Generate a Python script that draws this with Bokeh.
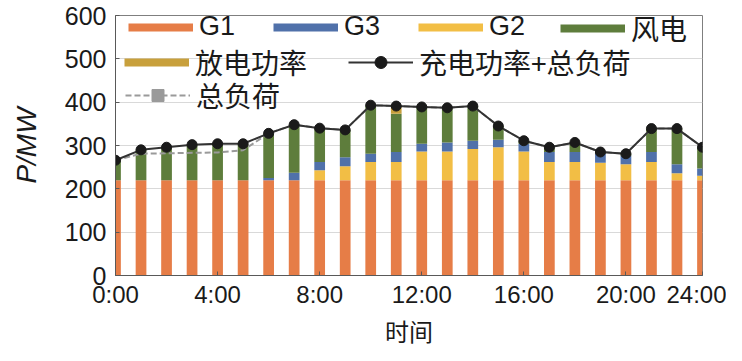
from bokeh.plotting import figure
from bokeh.models import (ColumnDataSource, Range1d, FixedTicker, Legend, LegendItem)
from bokeh.embed import file_html
from bokeh.resources import INLINE

# ---------------- data ----------------
hours = list(range(24))
tick_pos = [0, 4, 8, 12, 16, 20, 23]
tick_labels = ["0:00", "4:00", "8:00", "12:00", "16:00", "20:00", "24:00"]

g1 = [220, 220, 220, 220, 220, 220, 220, 220, 220, 220, 220, 220,
      220, 220, 220, 220, 220, 220, 220, 220, 220, 220, 220, 220]
g2 = [0, 0, 0, 0, 0, 0, 0, 0, 23, 32, 42, 42,
      66, 66, 72, 76, 66, 42, 42, 40, 37, 42, 16, 10]
g3 = [0, 0, 0, 0, 0, 0, 5, 17, 19, 21, 19, 23,
      18, 21, 19, 17, 18, 23, 23, 21, 20, 23, 21, 17]
wind = [46, 70, 76, 82, 84, 84, 103, 111, 78, 63, 112, 88,
        85, 80, 80, 32, 7, 11, 22, 4, 4, 54, 82, 49]
discharge = [0, 0, 0, 0, 0, 0, 0, 0, 0, 0, 0, 18,
             0, 0, 0, 0, 0, 0, 0, 0, 0, 0, 0, 0]
charge_plus_load = [266, 290, 296, 302, 304, 304, 328, 348, 340, 336, 393, 391,
                    389, 387, 391, 345, 311, 296, 307, 285, 281, 339, 339, 296]
total_load = [266, 281, 282, 283, 284, 289, 328, 348, 340, 336, 393, 391,
              389, 387, 391, 345, 311, 296, 307, 285, 281, 339, 339, 296]

C_G1 = "#E67D47"
C_G2 = "#F2BE45"
C_G3 = "#5071AA"
C_WIND = "#5E7D3C"
C_DIS = "#C8A03C"
C_LINE = "#333333"
C_LOAD = "#9a9a9a"

TICK_FONT = "Liberation Sans"
CJK_FONT = "Noto Sans CJK SC"
NAN = float("nan")

src = ColumnDataSource(dict(hour=hours, g1=g1, g2=g2, g3=g3, wind=wind,
                            discharge=discharge, total=charge_plus_load,
                            load=total_load))

p = figure(frame_width=587, frame_height=260,
           x_range=Range1d(0, 23), y_range=Range1d(0, 600),
           output_backend="svg", toolbar_location=None,
           min_border_left=115, min_border_right=24,
           min_border_top=15, min_border_bottom=70)
p.background_fill_color = "white"
p.border_fill_color = "white"
p.outline_line_color = "#7f7f7f"
p.outline_line_width = 1

# stacked bars
bars = p.vbar_stack(["g1", "g2", "g3", "wind", "discharge"], x="hour", width=0.42,
                    color=[C_G1, C_G2, C_G3, C_WIND, C_DIS], line_color=None,
                    source=src)

# lines
load_line = p.line("hour", "load", source=src, line_color=C_LOAD, line_width=2,
                   line_dash="6 3")
tot_line = p.line("hour", "total", source=src, line_color=C_LINE, line_width=2)
tot_pts = p.scatter("hour", "total", source=src, marker="circle", size=10,
                    fill_color="#1a1a1a", line_color="#1a1a1a")

# legend-only glyph renderers (nothing visible in the plot)
def dummy_line(color, width):
    return p.line(x=[0, 0], y=[NAN, NAN], line_color=color, line_width=width)

lg_g1 = dummy_line(C_G1, 8)
lg_g3 = dummy_line(C_G3, 8)
lg_g2 = dummy_line(C_G2, 8)
lg_wind = dummy_line(C_WIND, 8)
lg_dis = dummy_line(C_DIS, 8)
lg_sq = p.scatter(x=[0], y=[NAN], marker="square", size=8, fill_color=C_LOAD,
                  line_color=C_LOAD)

def add_leg(label, renderers, x, y, font, size):
    lg = Legend(items=[LegendItem(label=label, renderers=renderers)],
                location=(x, y), orientation="horizontal",
                glyph_width=65, glyph_height=30, label_standoff=6,
                padding=0, margin=0, spacing=0,
                border_line_color=None, background_fill_alpha=0,
                label_text_font=font, label_text_font_size=size,
                label_text_color="#1a1a1a")
    p.add_layout(lg)

add_leg("G1", [lg_g1], 13, 233, TICK_FONT, "27px")
add_leg("G3", [lg_g3], 158, 233, TICK_FONT, "27px")
add_leg("G2", [lg_g2], 303, 233, TICK_FONT, "27px")
add_leg("风电", [lg_wind], 445, 227, CJK_FONT, "28px")
add_leg("放电功率", [lg_dis], 9, 193, CJK_FONT, "28px")
add_leg("充电功率+总负荷", [tot_line, tot_pts], 233, 193, CJK_FONT, "28px")
add_leg("总负荷", [load_line, lg_sq], 10, 160, CJK_FONT, "28px")

# axes
p.xgrid.grid_line_color = None
p.ygrid.grid_line_color = "#d9d9d9"
p.ygrid.grid_line_width = 1

p.xaxis.ticker = FixedTicker(ticks=tick_pos)
p.xaxis.major_label_overrides = {t: l for t, l in zip(tick_pos, tick_labels)}
p.yaxis.ticker = FixedTicker(ticks=[0, 100, 200, 300, 400, 500, 600])

for ax in (p.xaxis[0], p.yaxis[0]):
    ax.major_label_text_font = TICK_FONT
    ax.major_label_text_font_size = "25px"
    ax.major_label_text_color = "#1a1a1a"
    ax.axis_line_color = "#595959"
    ax.major_tick_line_color = "#595959"
    ax.major_tick_in = 4
    ax.major_tick_out = 0
    ax.minor_tick_line_color = None

p.xaxis.major_label_text_font_size = "24px"

p.yaxis.major_label_standoff = 9
p.yaxis.axis_label = "P/MW"
p.yaxis.axis_label_text_font = TICK_FONT
p.yaxis.axis_label_text_font_style = "italic"
p.yaxis.axis_label_text_font_size = "28px"
p.yaxis.axis_label_text_color = "#1a1a1a"
p.yaxis.axis_label_standoff = 20

p.xaxis.major_label_standoff = 5
p.xaxis.axis_label = "时间"
p.xaxis.axis_label_text_font = CJK_FONT
p.xaxis.axis_label_text_font_style = "normal"
p.xaxis.axis_label_text_font_size = "24px"
p.xaxis.axis_label_text_color = "#1a1a1a"
p.xaxis.axis_label_standoff = 2

open("out.html", "w").write(file_html(p, INLINE))
